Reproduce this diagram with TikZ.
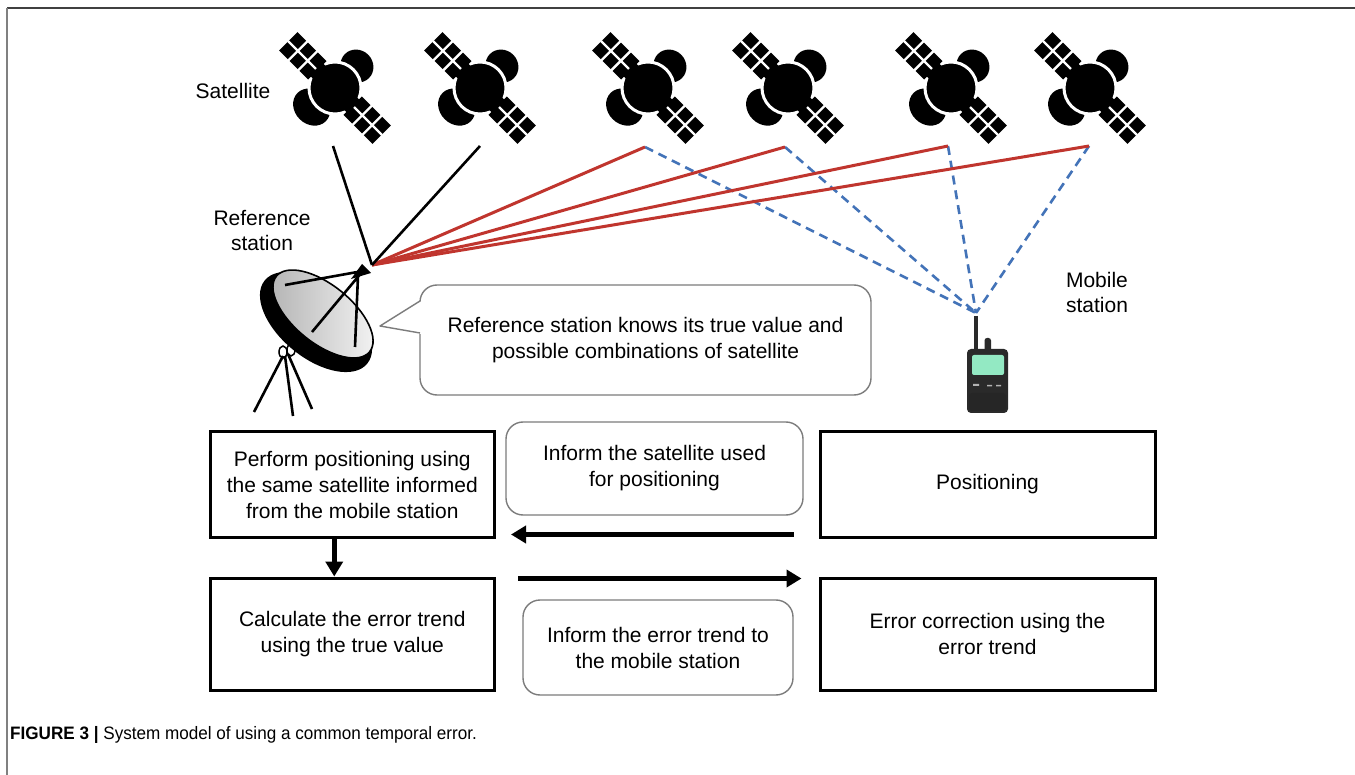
\documentclass[tikz,border=0pt]{standalone}
\usepackage{fontspec}
\setmainfont{Liberation Sans}
\newfontfamily\capfont[FakeStretch=0.95]{Liberation Sans}
\usetikzlibrary{arrows.meta,calc}
\definecolor{redl}{HTML}{C0352E}
\definecolor{bluel}{HTML}{4373B8}
\definecolor{scr}{HTML}{93E9C3}
\definecolor{bubg}{HTML}{7C7C7C}
\definecolor{phone}{HTML}{2A2A2A}
\begin{document}
\begin{tikzpicture}[x=1pt,y=-1pt,
  lbl/.style={font=\fontsize{21}{25}\selectfont, align=center, inner sep=0pt},
  box/.style={draw, line width=3pt, inner sep=0pt, align=center, font=\fontsize{21}{26}\selectfont},
  bubble/.style={draw=bubg, line width=1.4pt, rounded corners=17pt, inner sep=0pt, align=center, font=\fontsize{21}{26}\selectfont},
  flow/.style={line width=4.5pt, -{Triangle[length=15pt,width=17pt]}},
  redray/.style={redl, line width=3pt},
  blueray/.style={bluel, line width=2.6pt, dash pattern=on 9pt off 6pt},
  blackray/.style={line width=2.6pt},
  strut/.style={line width=2.6pt},
  satpic/.pic={
    \begin{scope}[rotate=-45]
      \fill (0,-31) ellipse [x radius=17, y radius=16];
      \fill (-3,30) ellipse [x radius=20, y radius=17];
      \filldraw[draw=white, line width=3pt] (0,0) circle (26);
      \fill (-30,-9) rectangle (30,9);
      \foreach \s in {-1,1}{
        \fill ({\s*25},-13) rectangle ({\s*66},13);
        \draw[white, line width=2.4pt] ({\s*38.5},-14) -- ({\s*38.5},14)
              ({\s*52.5},-14) -- ({\s*52.5},14) ({\s*27},0) -- ({\s*66.5},0);
      }
    \end{scope}
  }
]
\useasboundingbox (0,0) rectangle (1355,775);
\fill[white] (0,0) rectangle (1355,775);
% frame
\draw[black!75, line width=1.5pt] (7,8) -- (1355,8);
\draw[black!50, line width=1.5pt] (7,8) -- (7,775);

% ray end points
\coordinate (s1) at (333,146);
\coordinate (s2) at (480,146);
\coordinate (s3) at (645,147);
\coordinate (s4) at (785,147);
\coordinate (s5) at (948,146);
\coordinate (s6) at (1089,146);
\coordinate (ref) at (372,265);
\coordinate (mob) at (976,313);

% rays
\foreach \s in {s3,s4,s5,s6} \draw[blueray] (\s) -- (mob);
\foreach \s in {s3,s4,s5,s6} \draw[redray] (ref) -- (\s);
\draw[blackray] (ref) -- (s1);
\draw[blackray] (ref) -- (s2);

% satellites
\pic at (335,88) {satpic};
\pic at (480,88) {satpic};
\pic at (648,88) {satpic};
\pic at (788,88) {satpic};
\pic at (951,88) {satpic};
\pic at (1090,88) {satpic};

% dish tripod
\draw[strut] (283,356) -- (254,412) (285,356) -- (293,416) (288,354) -- (312,409);
\draw[line width=1.5pt] (283,352) ellipse [x radius=4, y radius=6];
\draw[line width=1.5pt] (291,350) ellipse [x radius=4, y radius=6];
% dish
\fill[rotate around={-39:(316,322)}] (316,322) ellipse [x radius=66, y radius=36];
\shade[rotate around={-39:(323,314)}, left color=gray!60, right color=gray!8] (323,314) ellipse [x radius=60, y radius=29];
\draw[line width=1.6pt, rotate around={-39:(323,314)}] (323,314) ellipse [x radius=60, y radius=29];
\draw[strut] (285,285) -- (363,271) (312,332) -- (362,272) (355,347) -- (358,276);
\fill (351,279) -- (362,264) -- (371,273) -- cycle;

% mobile
\draw[phone, line width=4pt] (976,316) -- (976,352);
\fill[phone, rounded corners=2.5pt] (984.5,338) rectangle (991,352);
\fill[phone, rounded corners=4pt] (967,349) rectangle (1008,413);
\fill[scr, rounded corners=2pt] (972,355) rectangle (1004,375);
\fill[black!85, rounded corners=3pt] (969,393) rectangle (1006,411);
\fill[gray!60] (973,384) rectangle (979,386) (987,385) rectangle (992,386.5) (996,385) rectangle (1001,386.5);

% speech bubble
\node[bubble, minimum width=451pt, minimum height=110pt] (know) at (645.5,340)
  {Reference station knows its true value and\\possible combinations of satellite};
\fill[white] (421.5,301) -- (380,326) -- (421.5,334) -- cycle;
\draw[bubg, line width=1.4pt, line join=round] (420,301) -- (380,326) -- (420,333);

% boxes
\node[box, minimum width=284.5pt, minimum height=105pt] (b1) at (352.25,484.5)
  {Perform positioning using\\the same satellite informed\\from the mobile station};
\node[box, minimum width=284.5pt, minimum height=112pt] (b2) at (352.25,634)
  {Calculate the error trend\\using the true value};
\node[box, minimum width=335pt, minimum height=105pt] (b3) at (987.5,484.5)
  {Positioning};
\node[box, minimum width=335pt, minimum height=112pt] (b4) at (987.5,634)
  {Error correction using the\\error trend};

% bubbles
\node[bubble, minimum width=297pt, minimum height=93pt] (q1) at (654.5,468.5)
  {Inform the satellite used\\for positioning};
\node[bubble, minimum width=270pt, minimum height=95pt] (q2) at (658,647.5)
  {Inform the error trend to\\the mobile station};

% arrows
\draw[flow] ($(b3.south west)+(-25,-4)$) -- ($(b1.south east)+(15,-4)$);
\draw[flow] ($(b2.north east)+(22,2)$) -- ($(b4.north west)+(-17,2)$);
\draw[flow] ($(b1.south)+(-18,0)$) -- ($(b2.north)+(-18,0)$);

% labels
\node[lbl] (satl) at (233,91) {Satellite};
\node[lbl] (refl) at (262,230.5) {Reference\\station};
\node[lbl] (mobl) at (1097,292.5) {Mobile\\station};

\node[anchor=west, inner sep=0pt, font=\capfont\fontsize{18}{21}\selectfont] (cap) at (10,735)
  {\textbf{FIGURE 3 |} System model of using a common temporal error.};
\end{tikzpicture}
\end{document}
